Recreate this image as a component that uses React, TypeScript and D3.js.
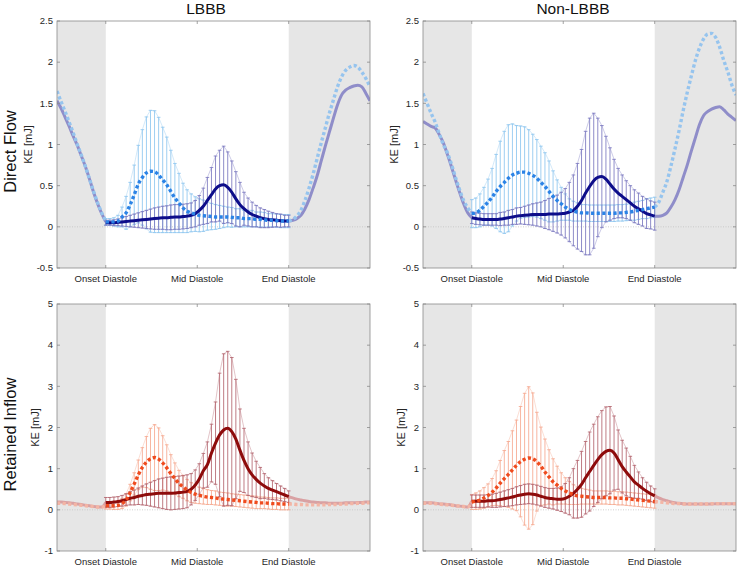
import React from 'react';
import * as d3 from 'd3';

// ---------- labels ----------
const colTitles = ['LBBB', 'Non-LBBB'];
const rowTitles = ['Direct Flow', 'Retained Inflow'];
const yLabel = 'KE [mJ]';
const xTickLabels = ['Onset Diastole', 'Mid Diastole', 'End Diastole'];
const xTickFrames = [0, 22.5, 45];
const topYTicks = [-0.5, 0, 0.5, 1, 1.5, 2, 2.5];
const botYTicks = [-1, 0, 1, 2, 3, 4, 5];
const topYLabels = ['-0.5', '0', '0.5', '1', '1.5', '2', '2.5'];
const botYLabels = ['-1', '0', '1', '2', '3', '4', '5'];

// frames: pre-diastole (-12..0), diastole (0..45), post-diastole (45..65)
const framesPre = d3.range(-12, 1);
const framesDia = d3.range(0, 46);
const framesPost = d3.range(45, 66);

// ---------- Direct Flow, LBBB ----------
const dfLbbbSolidMean = [0.05,0.05,0.05,0.055,0.06,0.065,0.07,0.075,0.08,0.085,0.09,0.095,0.1,0.105,0.11,0.11,0.115,0.12,0.12,0.125,0.13,0.14,0.16,0.2,0.25,0.32,0.39,0.46,0.5,0.51,0.48,0.42,0.34,0.27,0.22,0.18,0.15,0.13,0.11,0.1,0.09,0.085,0.08,0.075,0.07,0.07];
const dfLbbbSolidSd = [0.03,0.03,0.035,0.04,0.05,0.06,0.07,0.08,0.09,0.1,0.11,0.12,0.13,0.135,0.14,0.145,0.15,0.15,0.15,0.15,0.15,0.15,0.16,0.18,0.22,0.28,0.33,0.4,0.43,0.47,0.43,0.38,0.33,0.27,0.2,0.17,0.15,0.13,0.12,0.11,0.1,0.09,0.08,0.08,0.07,0.07];
const dfLbbbDotMean = [0.06,0.06,0.06,0.07,0.12,0.17,0.27,0.39,0.52,0.6,0.655,0.675,0.67,0.63,0.57,0.51,0.43,0.35,0.29,0.23,0.19,0.17,0.155,0.14,0.135,0.13,0.125,0.12,0.12,0.12,0.12,0.115,0.11,0.11,0.1,0.1,0.1,0.09,0.09,0.085,0.08,0.08,0.075,0.07,0.07,0.07];
const dfLbbbDotSd = [0.04,0.04,0.05,0.07,0.12,0.2,0.27,0.36,0.47,0.58,0.68,0.74,0.74,0.7,0.64,0.58,0.5,0.42,0.36,0.3,0.26,0.23,0.21,0.2,0.19,0.17,0.16,0.15,0.14,0.13,0.12,0.12,0.11,0.11,0.1,0.1,0.1,0.09,0.09,0.09,0.08,0.08,0.08,0.08,0.08,0.08];
const dfLbbbSolidPre = [1.53,1.44,1.33,1.22,1.1,0.99,0.86,0.73,0.58,0.42,0.28,0.16,0.06];
const dfLbbbDotPre = [1.65,1.52,1.4,1.27,1.14,1.0,0.87,0.73,0.58,0.43,0.29,0.17,0.07];
const dfLbbbSolidPost = [0.07,0.08,0.1,0.14,0.22,0.33,0.47,0.62,0.8,0.98,1.15,1.32,1.48,1.6,1.66,1.69,1.71,1.72,1.7,1.62,1.53];
const dfLbbbDotPost = [0.07,0.09,0.13,0.2,0.32,0.47,0.64,0.83,1.02,1.2,1.38,1.54,1.7,1.82,1.9,1.94,1.96,1.94,1.88,1.8,1.7];

// ---------- Direct Flow, Non-LBBB ----------
const dfNonSolidMean = [0.11,0.1,0.095,0.09,0.09,0.09,0.09,0.095,0.1,0.11,0.12,0.13,0.135,0.14,0.145,0.15,0.15,0.15,0.15,0.155,0.155,0.155,0.16,0.165,0.18,0.2,0.25,0.32,0.41,0.49,0.56,0.6,0.61,0.58,0.52,0.46,0.41,0.37,0.33,0.29,0.25,0.22,0.19,0.16,0.145,0.13];
const dfNonSolidSd = [0.07,0.07,0.07,0.07,0.07,0.07,0.07,0.08,0.08,0.09,0.09,0.1,0.1,0.11,0.12,0.13,0.14,0.15,0.17,0.19,0.21,0.23,0.26,0.3,0.36,0.43,0.52,0.62,0.75,0.83,0.82,0.72,0.62,0.52,0.44,0.36,0.3,0.26,0.23,0.21,0.2,0.19,0.18,0.18,0.17,0.17];
const dfNonDotMean = [0.16,0.17,0.2,0.25,0.3,0.36,0.43,0.49,0.54,0.59,0.63,0.65,0.665,0.665,0.65,0.625,0.59,0.54,0.49,0.43,0.37,0.32,0.28,0.24,0.21,0.19,0.18,0.17,0.17,0.165,0.165,0.165,0.165,0.165,0.165,0.165,0.17,0.17,0.175,0.18,0.19,0.2,0.21,0.22,0.23,0.24];
const dfNonDotSd = [0.17,0.18,0.2,0.23,0.28,0.35,0.45,0.55,0.62,0.65,0.62,0.58,0.56,0.55,0.53,0.5,0.47,0.44,0.41,0.37,0.31,0.25,0.2,0.16,0.13,0.12,0.11,0.1,0.1,0.1,0.1,0.1,0.1,0.1,0.1,0.1,0.1,0.1,0.1,0.1,0.11,0.11,0.11,0.12,0.12,0.12];
const dfNonSolidPre = [1.28,1.25,1.22,1.2,1.12,1.02,0.88,0.73,0.57,0.42,0.28,0.17,0.11];
const dfNonDotPre = [1.62,1.5,1.38,1.27,1.13,1.0,0.9,0.76,0.6,0.45,0.32,0.23,0.16];
const dfNonSolidPost = [0.13,0.13,0.14,0.17,0.24,0.33,0.45,0.6,0.75,0.92,1.08,1.24,1.35,1.4,1.43,1.45,1.46,1.42,1.37,1.33,1.29];
const dfNonDotPost = [0.24,0.3,0.42,0.55,0.74,0.95,1.17,1.41,1.63,1.83,2.02,2.17,2.28,2.34,2.35,2.3,2.18,2.02,1.88,1.72,1.6];

// ---------- Retained Inflow, LBBB ----------
const riLbbbSolidMean = [0.18,0.18,0.19,0.2,0.22,0.25,0.28,0.3,0.33,0.35,0.37,0.38,0.39,0.4,0.4,0.4,0.4,0.41,0.42,0.43,0.45,0.5,0.6,0.75,0.95,1.1,1.38,1.62,1.82,1.94,1.98,1.9,1.72,1.45,1.2,1.0,0.85,0.74,0.65,0.58,0.52,0.48,0.44,0.4,0.36,0.32];
const riLbbbSolidSd = [0.12,0.12,0.12,0.12,0.13,0.14,0.16,0.18,0.2,0.23,0.26,0.29,0.32,0.35,0.37,0.39,0.4,0.4,0.4,0.4,0.4,0.38,0.37,0.37,0.42,0.55,0.7,1.0,1.5,1.85,1.87,1.8,1.45,1.0,0.78,0.65,0.53,0.44,0.38,0.3,0.26,0.23,0.2,0.18,0.16,0.14];
const riLbbbDotMean = [0.1,0.1,0.1,0.11,0.15,0.24,0.42,0.63,0.85,1.03,1.16,1.24,1.27,1.23,1.14,1.02,0.88,0.76,0.64,0.56,0.48,0.42,0.38,0.35,0.33,0.31,0.3,0.29,0.27,0.26,0.25,0.24,0.23,0.22,0.21,0.2,0.19,0.18,0.17,0.17,0.16,0.15,0.15,0.14,0.14,0.14];
const riLbbbDotSd = [0.08,0.08,0.09,0.1,0.12,0.15,0.2,0.27,0.36,0.48,0.62,0.74,0.8,0.76,0.66,0.56,0.46,0.38,0.32,0.28,0.26,0.24,0.22,0.2,0.19,0.18,0.17,0.17,0.16,0.16,0.16,0.15,0.15,0.15,0.15,0.15,0.15,0.15,0.14,0.14,0.14,0.14,0.14,0.14,0.14,0.14];
const riLbbbSolidPre = [0.19,0.19,0.18,0.17,0.16,0.14,0.13,0.11,0.1,0.08,0.07,0.07,0.18];
const riLbbbDotPre = [0.16,0.16,0.15,0.14,0.13,0.12,0.11,0.1,0.09,0.08,0.07,0.07,0.1];
const riLbbbSolidPost = [0.32,0.29,0.26,0.24,0.22,0.2,0.19,0.18,0.17,0.17,0.16,0.16,0.16,0.16,0.17,0.17,0.17,0.18,0.18,0.19,0.19];
const riLbbbDotPost = [0.14,0.14,0.13,0.13,0.12,0.12,0.12,0.12,0.12,0.12,0.13,0.13,0.13,0.14,0.14,0.15,0.15,0.16,0.16,0.17,0.17];

// ---------- Retained Inflow, Non-LBBB ----------
const riNonSolidMean = [0.21,0.21,0.21,0.21,0.22,0.22,0.23,0.25,0.27,0.29,0.31,0.34,0.36,0.38,0.39,0.38,0.36,0.33,0.3,0.28,0.27,0.26,0.26,0.28,0.33,0.4,0.5,0.62,0.78,0.93,1.08,1.22,1.34,1.42,1.45,1.38,1.22,1.05,0.92,0.8,0.68,0.6,0.52,0.45,0.39,0.34];
const riNonSolidSd = [0.15,0.15,0.15,0.15,0.15,0.16,0.17,0.18,0.19,0.2,0.21,0.22,0.23,0.24,0.24,0.24,0.24,0.24,0.24,0.24,0.25,0.27,0.3,0.36,0.45,0.6,0.7,0.8,0.88,0.96,1.0,1.04,1.07,1.08,1.06,0.9,0.72,0.64,0.58,0.5,0.4,0.32,0.26,0.22,0.19,0.17];
const riNonDotMean = [0.19,0.21,0.24,0.29,0.35,0.43,0.53,0.65,0.76,0.86,0.97,1.08,1.17,1.23,1.26,1.24,1.17,1.06,0.92,0.8,0.68,0.6,0.52,0.46,0.41,0.37,0.34,0.33,0.32,0.31,0.3,0.3,0.3,0.3,0.29,0.29,0.28,0.28,0.27,0.26,0.25,0.24,0.23,0.22,0.21,0.2];
const riNonDotSd = [0.18,0.2,0.22,0.25,0.28,0.33,0.42,0.55,0.68,0.8,0.95,1.1,1.34,1.6,1.73,1.6,1.2,0.95,0.8,0.66,0.56,0.46,0.38,0.32,0.28,0.24,0.21,0.19,0.18,0.17,0.16,0.16,0.16,0.16,0.16,0.16,0.16,0.16,0.16,0.16,0.16,0.16,0.16,0.16,0.16,0.16];
const riNonSolidPre = [0.17,0.17,0.17,0.16,0.15,0.14,0.13,0.12,0.1,0.09,0.08,0.07,0.21];
const riNonDotPre = [0.16,0.16,0.16,0.15,0.14,0.13,0.12,0.11,0.1,0.09,0.08,0.07,0.19];
const riNonSolidPost = [0.34,0.29,0.25,0.22,0.19,0.17,0.16,0.15,0.14,0.14,0.14,0.14,0.14,0.14,0.14,0.15,0.15,0.15,0.15,0.15,0.15];
const riNonDotPost = [0.2,0.19,0.18,0.17,0.16,0.15,0.15,0.14,0.14,0.14,0.14,0.14,0.14,0.14,0.15,0.15,0.15,0.15,0.15,0.15,0.15];

type Series = { mean: number[]; sd: number[]; pre: number[]; post: number[] };

const panels = [
  { row: 0, col: 0, solid: { mean: dfLbbbSolidMean, sd: dfLbbbSolidSd, pre: dfLbbbSolidPre, post: dfLbbbSolidPost }, dotted: { mean: dfLbbbDotMean, sd: dfLbbbDotSd, pre: dfLbbbDotPre, post: dfLbbbDotPost } },
  { row: 0, col: 1, solid: { mean: dfNonSolidMean, sd: dfNonSolidSd, pre: dfNonSolidPre, post: dfNonSolidPost }, dotted: { mean: dfNonDotMean, sd: dfNonDotSd, pre: dfNonDotPre, post: dfNonDotPost } },
  { row: 1, col: 0, solid: { mean: riLbbbSolidMean, sd: riLbbbSolidSd, pre: riLbbbSolidPre, post: riLbbbSolidPost }, dotted: { mean: riLbbbDotMean, sd: riLbbbDotSd, pre: riLbbbDotPre, post: riLbbbDotPost } },
  { row: 1, col: 1, solid: { mean: riNonSolidMean, sd: riNonSolidSd, pre: riNonSolidPre, post: riNonSolidPost }, dotted: { mean: riNonDotMean, sd: riNonDotSd, pre: riNonDotPre, post: riNonDotPost } },
];

const rowStyles = [
  { solid: '#0d0d8a', solidBar: '#7a77bf', dotted: '#2b83e6', dottedBar: '#8cc5ef', solidFaint: '#8f8dc9', dottedFaint: '#96c4ee' },
  { solid: '#8e0b0b', solidBar: '#b4646e', dotted: '#ef4b1e', dottedBar: '#f5a88f', solidFaint: '#d9a1a3', dottedFaint: '#f3b5a5' },
];

const W = 738, H = 566;
const colLeft = [57, 423];
const plotW = 313;
const rowTop = [21, 304];
const plotH = 247;
const FONT = 'Liberation Sans, Arial, Helvetica, sans-serif';

function Panel({ spec, idx }: { spec: typeof panels[number]; idx: number }) {
  const left = colLeft[spec.col];
  const top = rowTop[spec.row];
  const st = rowStyles[spec.row];
  const yTicks = spec.row === 0 ? topYTicks : botYTicks;
  const yTickLabels = spec.row === 0 ? topYLabels : botYLabels;
  const x = d3.scaleLinear().domain([-12, 65]).range([left, left + plotW]);
  const y = d3.scaleLinear().domain(spec.row === 0 ? [-0.5, 2.5] : [-1, 5]).range([top + plotH, top]);
  const clipId = `clip${idx}`;

  const lineOf = (frames: number[], vals: number[], curve = d3.curveMonotoneX) =>
    d3.line<number>().x((_, i) => x(frames[i])).y((v) => y(v)).curve(curve)(vals) || '';

  const bars = (s: Series, color: string) => (
    <g stroke={color} strokeWidth={0.85} fill="none">
      {framesDia.map((f, i) => {
        const xx = x(f);
        const y1 = y(s.mean[i] - s.sd[i]);
        const y2 = y(s.mean[i] + s.sd[i]);
        return (
          <g key={i}>
            <line x1={xx} x2={xx} y1={y1} y2={y2} />
            <line x1={xx - 1.8} x2={xx + 1.8} y1={y1} y2={y1} />
            <line x1={xx - 1.8} x2={xx + 1.8} y1={y2} y2={y2} />
          </g>
        );
      })}
      <path d={lineOf(framesDia, s.mean.map((m, i) => m + s.sd[i]), d3.curveLinear)} strokeWidth={0.7} strokeOpacity={0.55} />
      <path d={lineOf(framesDia, s.mean.map((m, i) => m - s.sd[i]), d3.curveLinear)} strokeWidth={0.7} strokeOpacity={0.55} />
    </g>
  );

  const dash = '3.2 2.4';
  const tickLen = 3;
  const axisColor = '#8a8a8a';

  return (
    <g>
      <defs>
        <clipPath id={clipId}>
          <rect x={left} y={top} width={plotW} height={plotH} />
        </clipPath>
      </defs>
      <rect x={left} y={top} width={plotW} height={plotH} fill="#ffffff" />
      <rect x={x(-12)} y={top} width={x(0) - x(-12)} height={plotH} fill="#e6e6e6" />
      <rect x={x(45)} y={top} width={x(65) - x(45)} height={plotH} fill="#e6e6e6" />
      <g clipPath={`url(#${clipId})`}>
        <line x1={left} x2={left + plotW} y1={y(0)} y2={y(0)} stroke="#c4c4c4" strokeWidth={0.8} strokeDasharray="1 1.5" />
        {bars(spec.dotted, st.dottedBar)}
        {bars(spec.solid, st.solidBar)}
        <path d={lineOf(framesPre, spec.solid.pre)} stroke={st.solidFaint} strokeWidth={3} fill="none" />
        <path d={lineOf(framesPost, spec.solid.post)} stroke={st.solidFaint} strokeWidth={3} fill="none" />
        <path d={lineOf(framesPre, spec.dotted.pre)} stroke={st.dottedFaint} strokeWidth={3.4} fill="none" strokeDasharray={dash} />
        <path d={lineOf(framesPost, spec.dotted.post)} stroke={st.dottedFaint} strokeWidth={3.4} fill="none" strokeDasharray={dash} />
        <path d={lineOf(framesDia, spec.solid.mean)} stroke={st.solid} strokeWidth={3} fill="none" strokeLinejoin="round" />
        <path d={lineOf(framesDia, spec.dotted.mean)} stroke={st.dotted} strokeWidth={3.4} fill="none" strokeDasharray={dash} />
      </g>
      <rect x={left} y={top} width={plotW} height={plotH} fill="none" stroke={axisColor} strokeWidth={0.8} />
      {yTicks.map((t, i) => (
        <g key={'y' + i}>
          <line x1={left} x2={left + tickLen} y1={y(t)} y2={y(t)} stroke={axisColor} strokeWidth={0.8} />
          <line x1={left + plotW} x2={left + plotW - tickLen} y1={y(t)} y2={y(t)} stroke={axisColor} strokeWidth={0.8} />
          <text x={left - 4} y={y(t)} dy="0.35em" textAnchor="end" fontSize={9.5} fill="#262626" fontFamily={FONT}>{yTickLabels[i]}</text>
        </g>
      ))}
      {xTickFrames.map((f, i) => (
        <g key={'x' + i}>
          <line x1={x(f)} x2={x(f)} y1={top + plotH} y2={top + plotH - tickLen} stroke={axisColor} strokeWidth={0.8} />
          <line x1={x(f)} x2={x(f)} y1={top} y2={top + tickLen} stroke={axisColor} strokeWidth={0.8} />
          <text x={x(f)} y={top + plotH + 13.5} textAnchor="middle" fontSize={9.5} fill="#262626" fontFamily={FONT}>{xTickLabels[i]}</text>
        </g>
      ))}
      <text
        transform={`translate(${left - (spec.row === 0 ? 25 : 18)},${top + plotH / 2}) rotate(-90)`}
        textAnchor="middle" fontSize={11} fill="#262626" fontFamily={FONT}
      >{yLabel}</text>
    </g>
  );
}

export default function App() {
  return (
    <svg width={W} height={H} style={{ position: 'absolute', left: 0, top: 0, background: '#fff' }}>
      <rect x={0} y={0} width={W} height={H} fill="#ffffff" />
      {panels.map((p, i) => <Panel key={i} spec={p} idx={i} />)}
      <text x={206} y={14} textAnchor="middle" fontSize={15.5} fill="#111" fontFamily={FONT}>{colTitles[0]}</text>
      <text x={573} y={14} textAnchor="middle" fontSize={15.5} fill="#111" fontFamily={FONT}>{colTitles[1]}</text>
      <text transform={`translate(16,${rowTop[0] + plotH / 2 + 7}) rotate(-90)`} textAnchor="middle" fontSize={16.5} fill="#111" fontFamily={FONT}>{rowTitles[0]}</text>
      <text transform={`translate(16,${rowTop[1] + plotH / 2 + 7}) rotate(-90)`} textAnchor="middle" fontSize={16.5} fill="#111" fontFamily={FONT}>{rowTitles[1]}</text>
    </svg>
  );
}
